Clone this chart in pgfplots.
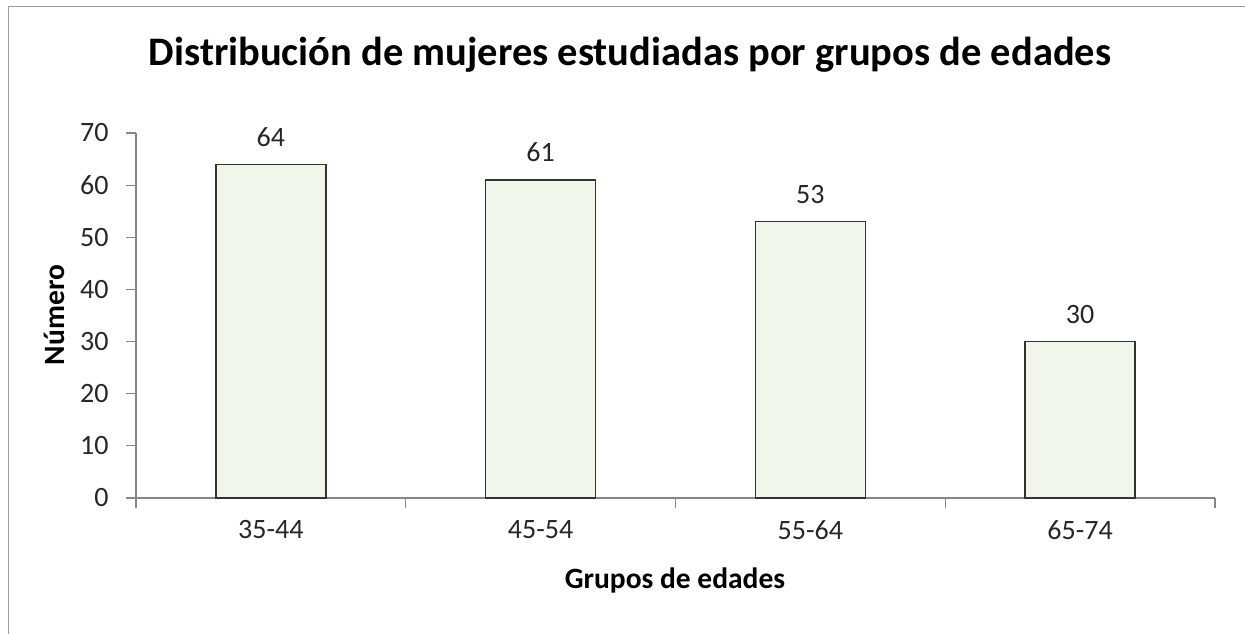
\documentclass[border=0pt]{standalone}
\usepackage{fontspec}
\setmainfont{Carlito}
\usepackage{pgfplots}
\pgfplotsset{compat=1.18}
\definecolor{barfill}{RGB}{240,246,234}
\definecolor{axgray}{RGB}{134,134,134}
\begin{document}
\begin{tikzpicture}[x=1pt,y=1pt]
\useasboundingbox (0,0) rectangle (1245,-634);
\draw[axgray!80, line width=1.2pt] (8.5,-634) -- (8.5,-6.5) -- (1245,-6.5);
\node[font=\fontsize{40.5}{46}\selectfont\bfseries] at (630,-55) {Distribución de mujeres estudiadas por grupos de edades};
\node[font=\fontsize{29.5}{34}\selectfont\bfseries, rotate=90] at (54,-315) {Número};
\node[font=\fontsize{29.5}{34}\selectfont\bfseries] at (675,-580) {Grupos de edades};
\begin{axis}[
  at={(136pt,-498pt)}, anchor=south west,
  scale only axis, width=1079pt, height=365pt,
  xmin=-0.5, xmax=3.5, ymin=0, ymax=70,
  axis x line*=bottom, axis y line*=left,
  axis line style={axgray, line width=1.2pt},
  ybar, bar width=110pt,
  xtick={0,1,2,3}, xticklabels={35-44,45-54,55-64,65-74},
  major x tick style={draw=none},
  minor xtick={-0.5,0.5,1.5,2.5,3.5},
  minor x tick style={axgray, line width=1.2pt},
  minor tick length=10pt,
  ytick={0,10,...,70},
  major y tick style={axgray, line width=1.2pt},
  major tick length=10pt,
  tick align=outside,
  /pgf/number format/assume math mode=true,
  tick label style={font=\fontsize{28}{32}\selectfont, text=black!85},
  xticklabel style={yshift=-9pt},
  yticklabel style={xshift=-14pt},
  nodes near coords,
  every node near coord/.append style={font=\fontsize{28}{32}\selectfont, text=black!85, yshift=14pt},
  clip=false,
]
\addplot[fill=barfill, draw=black!80, line width=1.4pt] coordinates {(0,64) (1,61) (2,53) (3,30)};
\end{axis}
\end{tikzpicture}
\end{document}
